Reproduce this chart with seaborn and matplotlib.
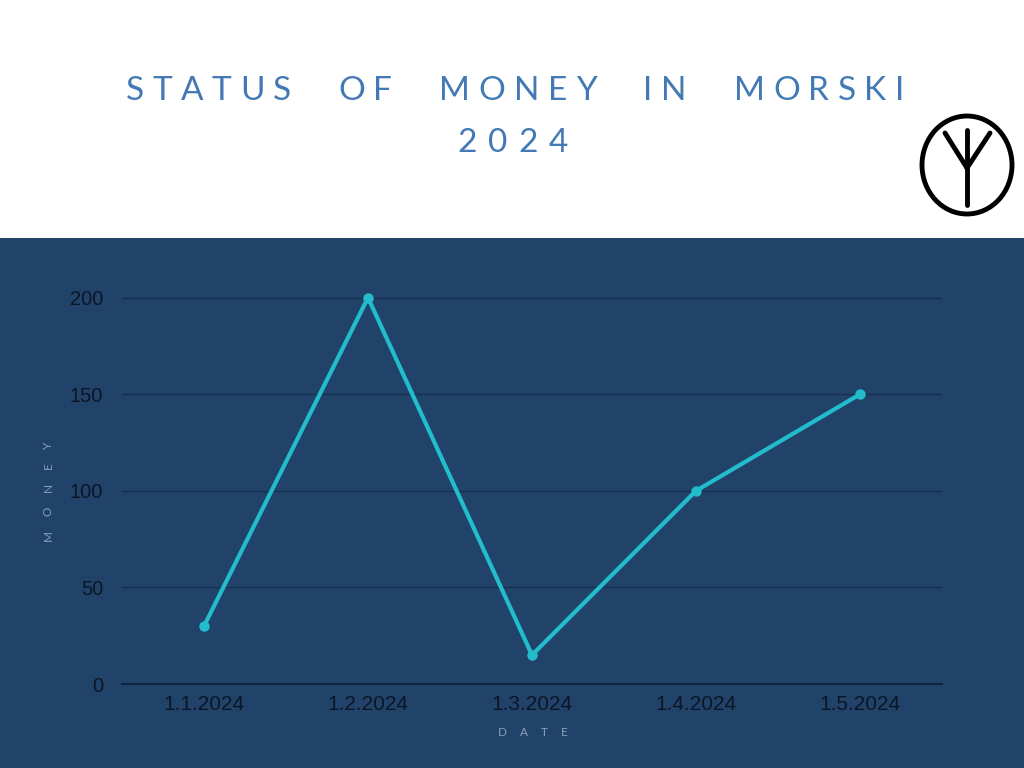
import numpy as np
import pandas as pd
import matplotlib
matplotlib.use("Agg")
import matplotlib.pyplot as plt
from matplotlib.patches import Rectangle, Ellipse
from matplotlib.lines import Line2D
import seaborn as sns

# dados do grafico
datas = ["1.1.2024", "1.2.2024", "1.3.2024", "1.4.2024", "1.5.2024"]
dinheiro = [30, 200, 15, 100, 150]
y_ticks = [0, 50, 100, 150, 200]

titulo_1 = "STATUS OF MONEY IN MORSKI"
titulo_2 = "2024"
rotulo_x = "DATE"
rotulo_y = "MONEY"

df = pd.DataFrame({"Date": datas, "Money": dinheiro})

sns.set_style("white")
plt.rcParams['font.family'] = ['Liberation Sans', 'DejaVu Sans']

W, H = 1024, 768
fig = plt.figure(figsize=(W / 100, H / 100), dpi=100)
fig.patch.set_facecolor("white")
renderer = fig.canvas.get_renderer()


def texto_espacado(txt, cx, cy, tracking, espaco, vertical=False, **kw):
    # escreve letra a letra com tracking largo, centrado em (cx, cy) em pixels
    larguras = []
    for ch in txt:
        if ch == " ":
            larguras.append(None)
            continue
        t = fig.text(0, 0, ch, **kw)
        larguras.append(t.get_window_extent(renderer).width)
        t.remove()
    total = sum(w + tracking for w in larguras if w is not None) - tracking
    total += sum(espaco - tracking for w in larguras if w is None)
    pos = -total / 2
    for ch, w in zip(txt, larguras):
        if w is None:
            pos += espaco - tracking
            continue
        c = pos + w / 2
        if vertical:
            fig.text(cx / W, 1 - (cy - c) / H, ch, rotation=90, ha="center", va="center", **kw)
        else:
            fig.text((cx + c) / W, 1 - cy / H, ch, ha="center", va="center", **kw)
        pos += w + tracking


# faixa azul escura
fig.patches.append(Rectangle((0, 0), 1, (H - 238) / H, transform=fig.transFigure,
                             facecolor="#21436a", edgecolor="none", zorder=-5))

ax = fig.add_axes([122 / W, (H - 684) / H, 820 / W, (684 - 259) / H])
ax.set_facecolor("none")
ax.set_zorder(2)

sns.lineplot(data=df, x="Date", y="Money", ax=ax, color="#22bccc", linewidth=3,
             marker="o", markersize=7.5, markeredgewidth=0, sort=False)

ax.set_xlim(-0.5, len(datas) - 0.5)
ax.set_ylim(0, 220)
ax.set_yticks(y_ticks)
ax.yaxis.grid(True, color="#17304f", linewidth=1)
ax.xaxis.grid(False)
ax.set_axisbelow(True)
for s in ["top", "right", "left"]:
    ax.spines[s].set_visible(False)
ax.spines["bottom"].set_color("#10243f")
ax.spines["bottom"].set_linewidth(1.5)
ax.tick_params(axis="y", length=0, pad=13.5, labelsize=14.5, labelcolor="#0b1626")
ax.tick_params(axis="x", length=0, pad=8, labelsize=15, labelcolor="#0b1626")
ax.set_xlabel("")
ax.set_ylabel("")

fonte_titulo = dict(fontsize=24, color="#4379b4", family=["Lato", "DejaVu Sans"])
fonte_eixo = dict(fontsize=8.5, color="#8a9fb8", family=["Lato", "DejaVu Sans"])

# titulo
texto_espacado(titulo_1, 515, 91, 8.5, 47, **fonte_titulo)
texto_espacado(titulo_2, 513, 143, 11, 47, **fonte_titulo)

# rotulos dos eixos
texto_espacado(rotulo_y, 48, 491, 14, 20, vertical=True, **fonte_eixo)
texto_espacado(rotulo_x, 533, 733, 13, 20, **fonte_eixo)

# logo
cx, cy = 967, 165
fig.patches.append(Ellipse((cx / W, 1 - cy / H), 90 / W, 98 / H, transform=fig.transFigure,
                           facecolor="none", edgecolor="black", linewidth=3.5))
for (x0, y0, x1, y1) in [(cx, 130, cx, 205), (945, 133, cx, 168), (990, 133, cx, 168)]:
    fig.lines.append(Line2D([x0 / W, x1 / W], [1 - y0 / H, 1 - y1 / H], transform=fig.transFigure,
                            color="black", linewidth=3.5, solid_capstyle="round"))

fig.savefig("out.png", dpi=100)
